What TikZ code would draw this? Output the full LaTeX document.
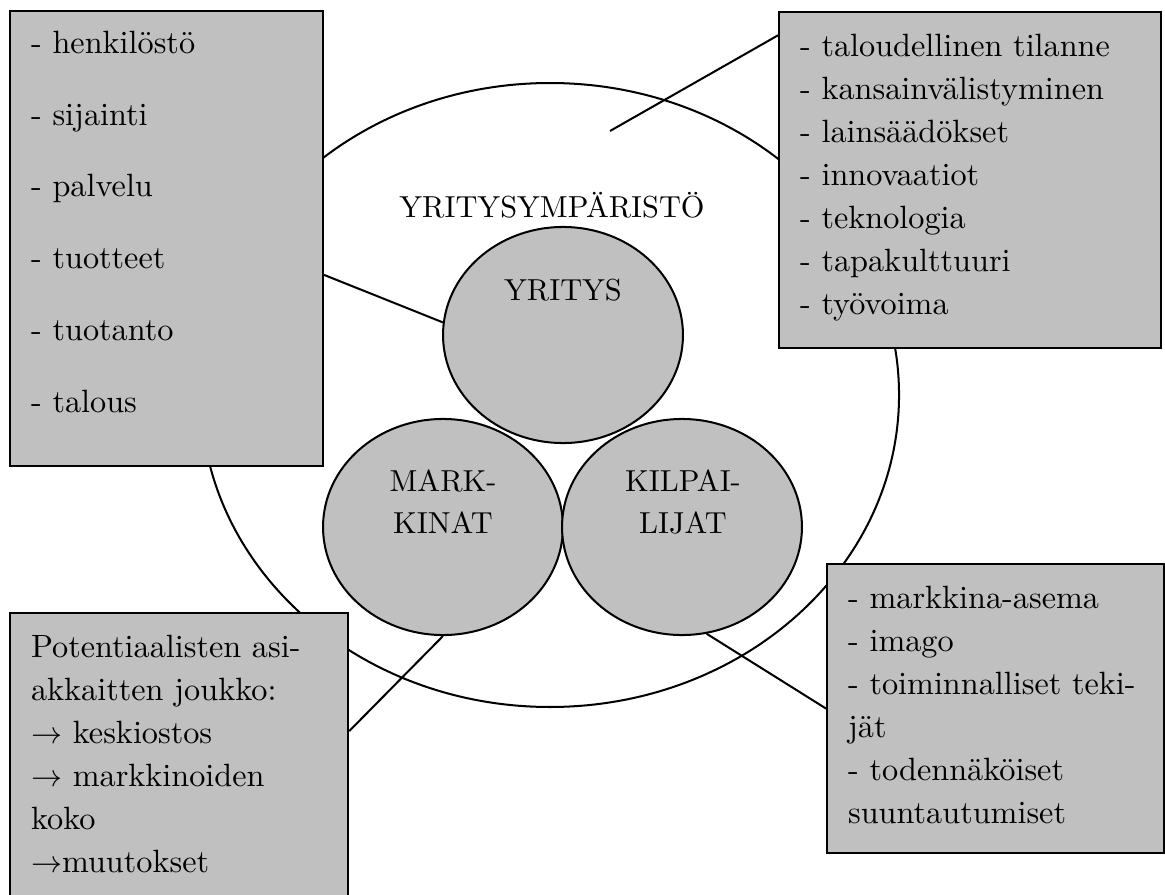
\documentclass[tikz,border=0pt]{standalone}
\usepackage{tikz}
\usetikzlibrary{shapes,shapes.geometric,positioning}

\definecolor{boxgray}{RGB}{192,192,192}
\newcommand{\pxu}{0.3226pt}

\begin{document}
\begin{tikzpicture}[
  x=\pxu, y=-\pxu,
  listbox/.style={rectangle, draw, fill=boxgray, line width=0.7pt, anchor=north west, inner xsep=6.77pt, inner ysep=0pt, align=left, font=\fontsize{10.4}{13.9}\selectfont},
  ball/.style={ellipse, draw, fill=boxgray, line width=0.65pt, minimum width=77.4pt, minimum height=69.7pt},
  caption/.style={align=center, inner sep=0pt, font=\fontsize{9.8}{13.5}\selectfont},
  link/.style={line width=0.65pt}
]
\useasboundingbox (0,0) rectangle (1165,895);

% Environment
\node[ellipse, draw, line width=0.65pt, minimum width=225.2pt, minimum height=201.3pt] (ymparisto) at (550,395) {};
\node[caption, anchor=base] (ympcap) at (552,217) {YRITYSYMPÄRISTÖ};

% Company, markets, competitors
\node[ball] (yritys) at (563,335) {};
\node[ball] (markkinat) at (443,527) {};
\node[ball] (kilpailijat) at (682,527) {};
\node[caption, anchor=base] (yrcap) at (563,300) {YRITYS};
\node[caption] (markcap) at (443,502) {MARK-\\KINAT};
\node[caption] (kilpcap) at (683,502) {KILPAI-\\LIJAT};

% Lists
\node[listbox, text width=87.4pt, text height=13.55pt, text depth=133.2pt, font=\fontsize{10.4}{23.2}\selectfont] (sisainen) at (9,10)
  {- henkilöstö\\- sijainti\\- palvelu\\- tuotteet\\- tuotanto\\- talous};
\node[listbox, text width=109.7pt, text height=14.2pt, text depth=94.2pt] (makro) at (778,11)
  {- taloudellinen tilanne\\- kansainvälistyminen\\- lainsäädökset\\- innovaatiot\\- teknologia\\- tapakulttuuri\\- työvoima};
\node[listbox, text width=95.5pt, text height=14.2pt, text depth=77.4pt] (asiakkaat) at (9,612)
  {Potentiaalisten asi-\\akkaitten joukko:\\$\rightarrow$ keskiostos\\$\rightarrow$ markkinoiden\\koko\\$\rightarrow$muutokset};
\node[listbox, text width=95.2pt, text height=14.2pt, text depth=79.0pt] (kilpbox) at (826,563)
  {- markkina-asema\\- imago\\- toiminnalliset teki-\\jät\\- todennäköiset\\suuntautumiset};

% Connectors
\coordinate (makroend) at (610,131);
\draw[link] (sisainen.-13.5) -- (yritys.174);
\draw[link] (makro.143) -- (makroend);
\draw[link] (asiakkaat.8.1) -- (markkinat.south);
\draw[link] (kilpbox.west) -- (kilpailijat.-77);

\end{tikzpicture}
\end{document}
